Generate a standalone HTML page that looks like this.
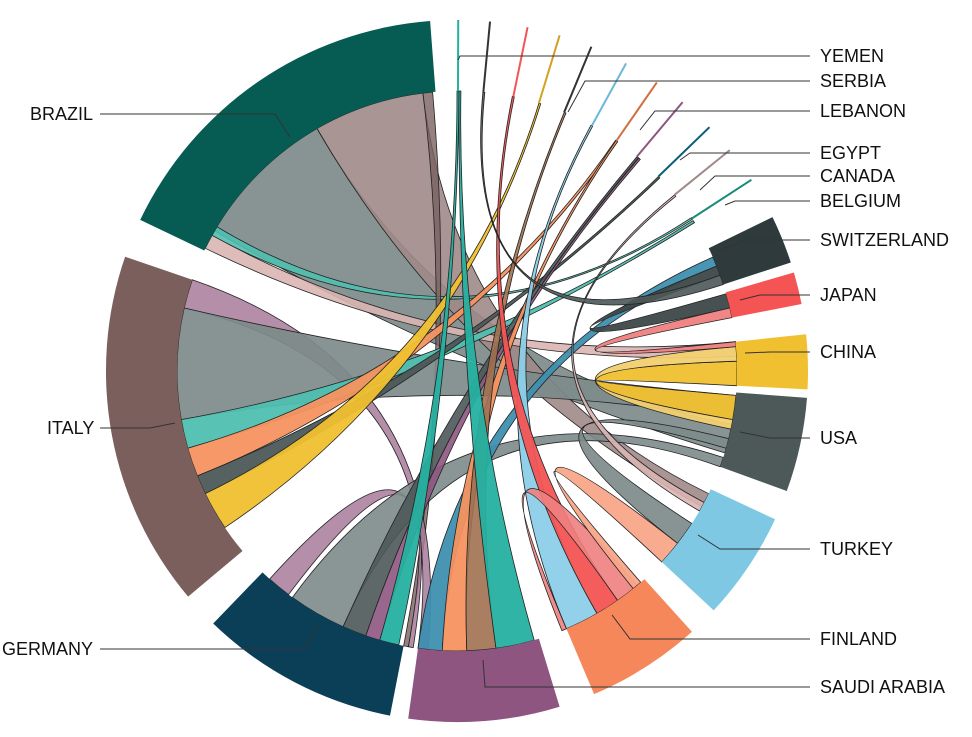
<!DOCTYPE html>
<html><head><meta charset="utf-8"><style>
body{margin:0;background:#fff}
svg{display:block}
text{font-family:"Liberation Sans",sans-serif;font-size:18px;fill:#111}
</style></head><body>
<svg id="s" width="972" height="737" xmlns="http://www.w3.org/2000/svg"></svg>
<script>
var cx=457,cy=371,R0=280,R1=351,NS="http://www.w3.org/2000/svg",s=document.getElementById('s');
function p(a,r){var t=a*Math.PI/180;return [cx+r*Math.sin(t),cy-r*Math.cos(t)];}
function el(n,at){var e=document.createElementNS(NS,n);for(var k in at)e.setAttribute(k,at[k]);s.appendChild(e);return e;}
function f(q){return q[0].toFixed(1)+' '+q[1].toFixed(1);}
function ribbon(a0,a1,b0,b1,c,o){
 var d='M'+f(p(a0,R0))+'A'+R0+' '+R0+' 0 0 1 '+f(p(a1,R0))+'Q'+cx+' '+cy+' '+f(p(b0,R0))+'A'+R0+' '+R0+' 0 0 1 '+f(p(b1,R0))+'Q'+cx+' '+cy+' '+f(p(a0,R0))+'Z';
 el('path',{d:d,fill:c,'fill-opacity':o,stroke:'#222','stroke-width':0.8});
}
var chords=[
[300,330,101,107,'#7d8b8a',.92],
[330,353,116,119,'#a08a88',.9],
[296,299,84,87,'#d9b5b2',.9],
[299,301,56.8,57.2,'#4fbfb0',.9],
[353,355,190,191,'#7a6060',.8],
[283,289,186,188,'#a87a9a',.85],
[260,283,95,100,'#7d8b8a',.92],
[254,260,57.5,58,'#4fbfb0',.95],
[248,254,34.5,35,'#f5925f',.95],
[244,248,46,46.4,'#4d5858',.95],
[236,244,17,17.4,'#f0c030',.95],
[217,222,189,190,'#a87a9a',.85],
[204,216,108,110,'#7d8b8a',.9],
[199,204,40,40.4,'#4d5858',.9],
[196,199,40.5,40.9,'#8e5581',.9],
[192,196,0,0.4,'#25b0a0',.95],
[183,188,66,68,'#3e8fb0',.95],
[178,183,34.6,35,'#f5925f',.95],
[172,178,22.5,22.9,'#a07050',.9],
[164,172,0.4,0.8,'#25b0a0',.95],
[150,157,28.6,29,'#8ccfe8',.95],
[145,150,11.4,11.8,'#f45454',.95],
[140,145,157,158,'#f08080',.9],
[123,128,104,106,'#7d8b8a',.92],
[128,133,139,141,'#f9a78a',.95],
[118,120,51,51.4,'#d9b5b2',.9],
[88,93,95,100,'#f0c030',.95],
[85,88,100,102,'#f2d070',.95],
[74,77,68,70,'#3d4848',.95],
[77,79,84,85,'#f08080',.95],
[70,72,5.3,5.7,'#4d5858',.9]
];
chords.forEach(function(c){ribbon.apply(null,c);});
var segs=[[295.5,355.6,'#065c52'],[230,289,'#7a5f5c'],[191,224,'#0b3f58'],[163,188,'#8e5581'],[138,157,'#f5875a'],[115,133,'#7ec8e3'],[94.4,110,'#4d5858'],[84,93,'#f0c030'],[73.7,79,'#f45454'],[64,72,'#2f3a3d']];
segs.forEach(function(g){var a=g[0],b=g[1];
 var d='M'+f(p(a,R0))+'L'+f(p(a,R1))+'A'+R1+' '+R1+' 0 0 1 '+f(p(b,R1))+'L'+f(p(b,R0))+'A'+R0+' '+R0+' 0 0 0 '+f(p(a,R0))+'Z';
 el('path',{d:d,fill:g[2]});});
[[0.2,'#25b0a0'],[5.4,'#333'],[11.6,'#f45454'],[17,'#d4a020'],[22.5,'#333'],[28.8,'#6cb8d8'],[34.7,'#d07040'],[40,'#8e5581'],[46,'#0b5f78'],[51,'#a08a88'],[57,'#1a8a7a']].forEach(function(t){
 var a=p(t[0],R0),b=p(t[0],R1);el('line',{x1:a[0],y1:a[1],x2:b[0],y2:b[1],stroke:t[1],'stroke-width':2});});
var labs=[['YEMEN',56,[[460,56],[458,60]]],['SERBIA',81,[[585,81],[568,112]]],['LEBANON',111,[[655,111],[640,130]]],['EGYPT',153,[[690,153],[680,160]]],['CANADA',176,[[715,176],[700,190]]],['BELGIUM',201,[[735,201],[725,205]]],['SWITZERLAND',240,[[745,240],[720,250]]],['JAPAN',295,[[760,295],[740,300]]],['CHINA',352,[[770,352],[745,353]]],['USA',438,[[770,438],[740,432]]],['TURKEY',549,[[720,549],[698,535]]],['FINLAND',639,[[630,639],[612,615]]],['SAUDI ARABIA',687,[[485,687],[483,660]]]];
labs.forEach(function(l){var d='M810 '+l[1];l[2].forEach(function(q){d+='L'+q[0]+' '+q[1];});
 el('path',{d:d,fill:'none',stroke:'#333','stroke-width':1});
 var t=el('text',{x:820,y:l[1]+6});t.textContent=l[0];});
[['BRAZIL',30,114,'M100 114L275 114L290 137'],['ITALY',47,428,'M100 428L150 428L175 423'],['GERMANY',2,649,'M100 649L305 649L318 625']].forEach(function(l){
 el('path',{d:l[3],fill:'none',stroke:'#333','stroke-width':1});
 var t=el('text',{x:l[1],y:l[2]+6});t.textContent=l[0];});
</script>
</body></html>
